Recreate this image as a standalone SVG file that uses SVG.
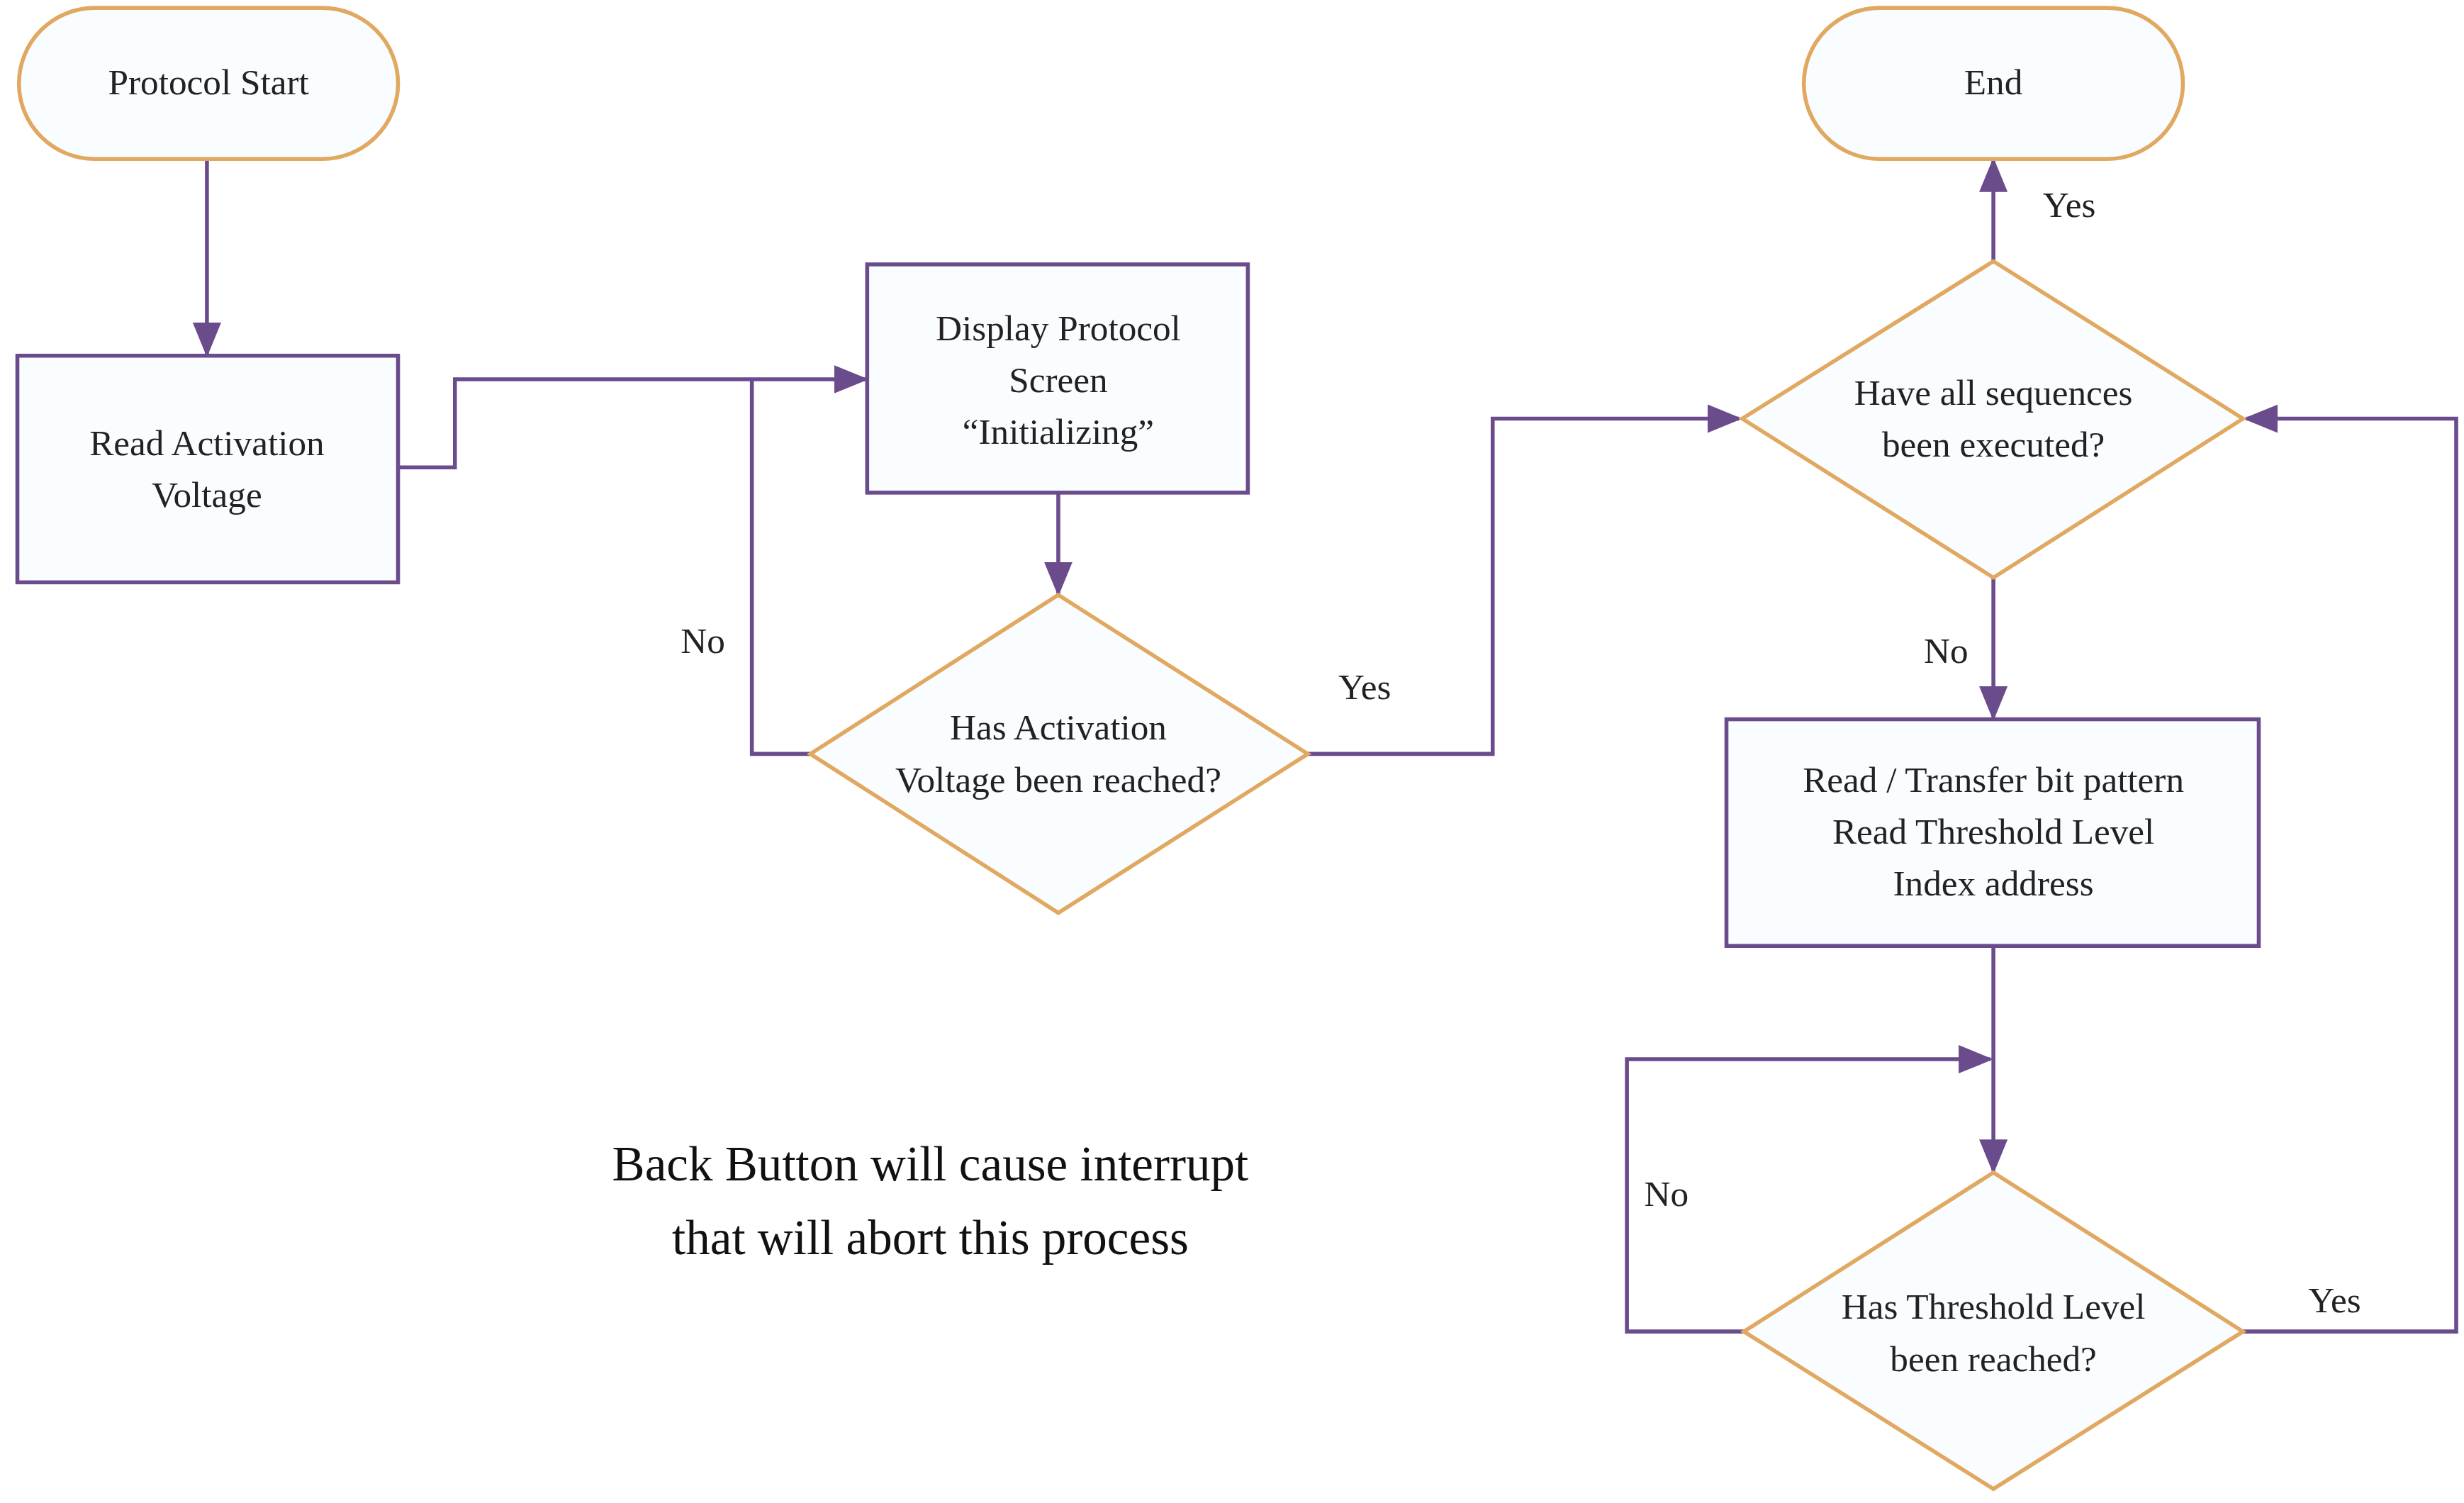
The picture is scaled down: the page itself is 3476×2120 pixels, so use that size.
<svg xmlns="http://www.w3.org/2000/svg" width="3476" height="2120" viewBox="0 0 3476 2120">
<style>
.t{font-family:"Liberation Serif","Times New Roman",serif;font-size:23px;fill:#222;text-anchor:middle}
.l{font-family:"Liberation Serif","Times New Roman",serif;font-size:23px;fill:#222;text-anchor:middle}
.big{font-family:"Liberation Serif","Times New Roman",serif;font-size:31px;fill:#111;text-anchor:middle}
.o{fill:#FAFDFF;stroke:#E0A860;stroke-width:2.5}
.p{fill:#FAFDFF;stroke:#6A4C8C;stroke-width:2.5}
.c{fill:none;stroke:#6A4C8C;stroke-width:2.5}
</style>
<defs><marker id="a" markerWidth="10" markerHeight="10" refX="9" refY="5" orient="auto" markerUnits="userSpaceOnUse" viewBox="0 0 10 10"><path d="M0,0L10,5L0,10z" fill="#6A4C8C"/></marker>
<marker id="b" markerWidth="22" markerHeight="22" refX="20" refY="11" orient="auto" markerUnits="userSpaceOnUse" viewBox="0 0 22 22"><path d="M0,2L22,11L0,20z" fill="#6A4C8C"/></marker></defs>
<rect width="3476" height="2120" fill="#fff"/>
<g transform="scale(2.2283,2.22)">
<g id="connectors">
<path class="c" marker-end="url(#b)" d="M131,101V225"/>
<path class="c" marker-end="url(#b)" d="M252,297H288V241H548"/>
<path class="c" marker-end="url(#b)" d="M670,313V377"/>
<path class="c" d="M513,479H476V241"/>
<path class="c" marker-end="url(#b)" d="M828,479H945V266H1101"/>
<path class="c" marker-end="url(#b)" d="M1262,166V102"/>
<path class="c" marker-end="url(#b)" d="M1262,367V456"/>
<path class="c" marker-end="url(#b)" d="M1262,601V744"/>
<path class="c" marker-end="url(#b)" d="M1104,846H1030V673H1260"/>
<path class="c" marker-end="url(#b)" d="M1420,846H1555V266H1422"/>
<text class="l" x="445" y="415">No</text>
<text class="l" x="864" y="444">Yes</text>
<text class="l" x="1310" y="138">Yes</text>
<text class="l" x="1232" y="421">No</text>
<text class="l" x="1055" y="766">No</text>
<text class="l" x="1478" y="834">Yes</text>
</g>
<g id="start"><rect class="o" x="12" y="5" width="240" height="96" rx="48"/><text class="t" x="132" y="60">Protocol Start</text></g>
<g id="readv"><rect class="p" x="11" y="226" width="241" height="144"/><text class="t" x="131" y="289">Read Activation</text><text class="t" x="131" y="322">Voltage</text></g>
<g id="display"><rect class="p" x="549" y="168" width="241" height="145"/><text class="t" x="670" y="216">Display Protocol</text><text class="t" x="670" y="249">Screen</text><text class="t" x="670" y="282">“Initializing”</text></g>
<g id="dec1"><path class="o" d="M670,378L828,479L670,580L513,479Z"/><text class="t" x="670" y="470">Has Activation</text><text class="t" x="670" y="503">Voltage been reached?</text></g>
<g id="end"><rect class="o" x="1142" y="5" width="240" height="96" rx="48"/><text class="t" x="1262" y="60">End</text></g>
<g id="dec2"><path class="o" d="M1262,166L1420,266L1262,367L1103,266Z"/><text class="t" x="1262" y="257">Have all sequences</text><text class="t" x="1262" y="290">been executed?</text></g>
<g id="readt"><rect class="p" x="1093" y="457" width="337" height="144"/><text class="t" x="1262" y="503">Read / Transfer bit pattern</text><text class="t" x="1262" y="536">Read Threshold Level</text><text class="t" x="1262" y="569">Index address</text></g>
<g id="dec3"><path class="o" d="M1262,745L1420,846L1262,946L1104,846Z"/><text class="t" x="1262" y="838">Has Threshold Level</text><text class="t" x="1262" y="871">been reached?</text></g>
<g id="note"><text class="big" x="589" y="750">Back Button will cause interrupt</text><text class="big" x="589" y="797">that will abort this process</text></g>
</g>
</svg>
